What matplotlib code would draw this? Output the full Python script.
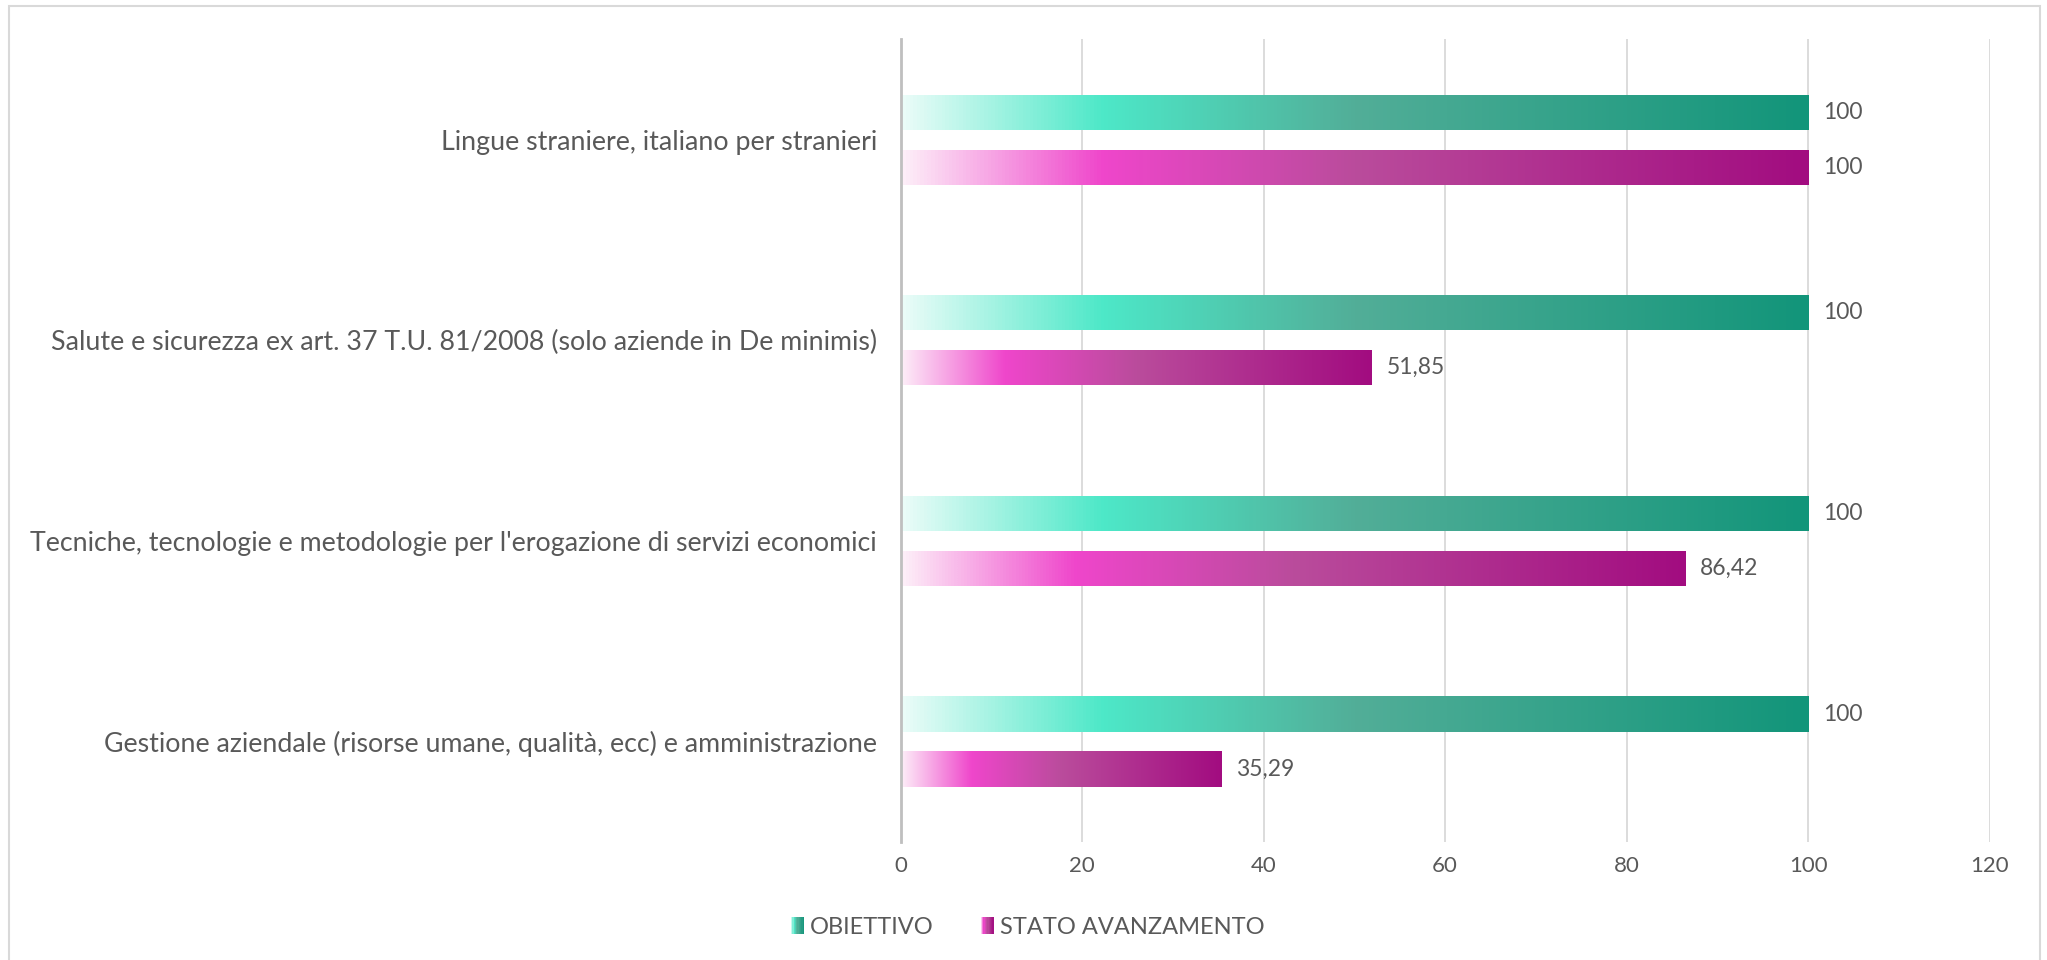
"""Horizontal bar chart: OBIETTIVO vs STATO AVANZAMENTO per area formativa."""
import numpy as np
import matplotlib
matplotlib.use("Agg")
import matplotlib.pyplot as plt
from matplotlib.colors import LinearSegmentedColormap
from matplotlib.legend_handler import HandlerBase
from matplotlib.patches import Rectangle

categories = [
    "Lingue straniere, italiano per stranieri",
    "Salute e sicurezza ex art. 37 T.U. 81/2008 (solo aziende in De minimis)",
    "Tecniche, tecnologie e metodologie per l'erogazione di servizi economici",
    "Gestione aziendale (risorse umane, qualità, ecc) e amministrazione",
]
obiettivo = [100, 100, 100, 100]
stato = [100, 51.85, 86.42, 35.29]
series_names = ["OBIETTIVO", "STATO AVANZAMENTO"]
xticks = [0, 20, 40, 60, 80, 100, 120]

TEXT = "#595959"
GRID = "#D9D9D9"

green = LinearSegmentedColormap.from_list(
    "green", [(0, "#EAFCF8"), (0.22, "#4DE8C8"), (0.5, "#52AE98"), (1, "#12957A")])
magenta = LinearSegmentedColormap.from_list(
    "magenta", [(0, "#FDEEF8"), (0.22, "#EF46CB"), (0.5, "#BA4C9C"), (1, "#A20C80")])

plt.rcParams["font.family"] = ["Lato", "DejaVu Sans"]
FS = 16

fig = plt.figure(figsize=(20.47, 9.6), dpi=100)
ax = fig.add_axes([0.440, 0.123, 0.532, 0.836])

y = np.arange(len(categories))
h = 0.176
off = 0.137
grad = np.linspace(0, 1, 256).reshape(1, -1)


def gradient_bars(values, ypos, cmap):
    bars = ax.barh(ypos, values, height=h, facecolor="none", edgecolor="none", zorder=3)
    for rect in bars:
        x0, y0 = rect.get_x(), rect.get_y()
        w, hh = rect.get_width(), rect.get_height()
        im = ax.imshow(grad, cmap=cmap, aspect="auto", interpolation="bilinear",
                       extent=[x0, x0 + w, y0, y0 + hh], zorder=2)
        im.set_clip_path(rect)
    return bars


gradient_bars(obiettivo, y - off, green)
gradient_bars(stato, y + off, magenta)


def fmt(v):
    return f"{v:g}".replace(".", ",")


for vals, yy in ((obiettivo, y - off), (stato, y + off)):
    for v, yi in zip(vals, yy):
        ax.annotate(fmt(v), (v, yi), xytext=(11, 0), textcoords="offset points",
                    va="center", ha="left", fontsize=16.5, color=TEXT)

ax.set_xlim(0, 120)
ax.set_ylim(len(categories) - 0.5, -0.5)
ax.set_xticks(xticks)
ax.set_yticks(y)
ax.set_yticklabels(categories)
ax.tick_params(axis="both", length=0, labelsize=FS, labelcolor=TEXT)
ax.tick_params(axis="x", pad=10)
ax.tick_params(axis="y", pad=17, labelsize=19.3)
ax.grid(axis="x", color=GRID, linewidth=1.3, zorder=0)
ax.set_axisbelow(True)
for s in ["top", "right", "bottom"]:
    ax.spines[s].set_visible(False)
ax.spines["left"].set_color("#BFBFBF")
ax.spines["left"].set_linewidth(2)


class GradientHandler(HandlerBase):
    def __init__(self, cmap, n=10):
        super().__init__()
        self.cmap = cmap
        self.n = n

    def create_artists(self, legend, orig_handle, xdescent, ydescent,
                       width, height, fontsize, trans):
        arts = []
        step = width / self.n
        for i in range(self.n):
            r = Rectangle((-xdescent + i * step, -ydescent), step * 1.05, height,
                          facecolor=self.cmap((i + 0.5) / self.n),
                          edgecolor="none", transform=trans)
            arts.append(r)
        return arts


h1, h2 = Rectangle((0, 0), 1, 1), Rectangle((0, 0), 1, 1)
fig.legend([h1, h2], series_names, loc="center", bbox_to_anchor=(0.502, 0.034),
           ncol=2, frameon=False, fontsize=17, labelcolor=TEXT,
           handlelength=0.55, handleheight=0.75, handletextpad=0.25,
           columnspacing=2.0,
           handler_map={h1: GradientHandler(green), h2: GradientHandler(magenta)})

# outer chart frame
fig.patches.append(Rectangle((9 / 2047, -0.02), (2040 - 9) / 2047, 1 - 6 / 960 + 0.02,
                             transform=fig.transFigure, facecolor="none",
                             edgecolor=GRID, linewidth=1.5))

fig.savefig("out.png", dpi=100)
